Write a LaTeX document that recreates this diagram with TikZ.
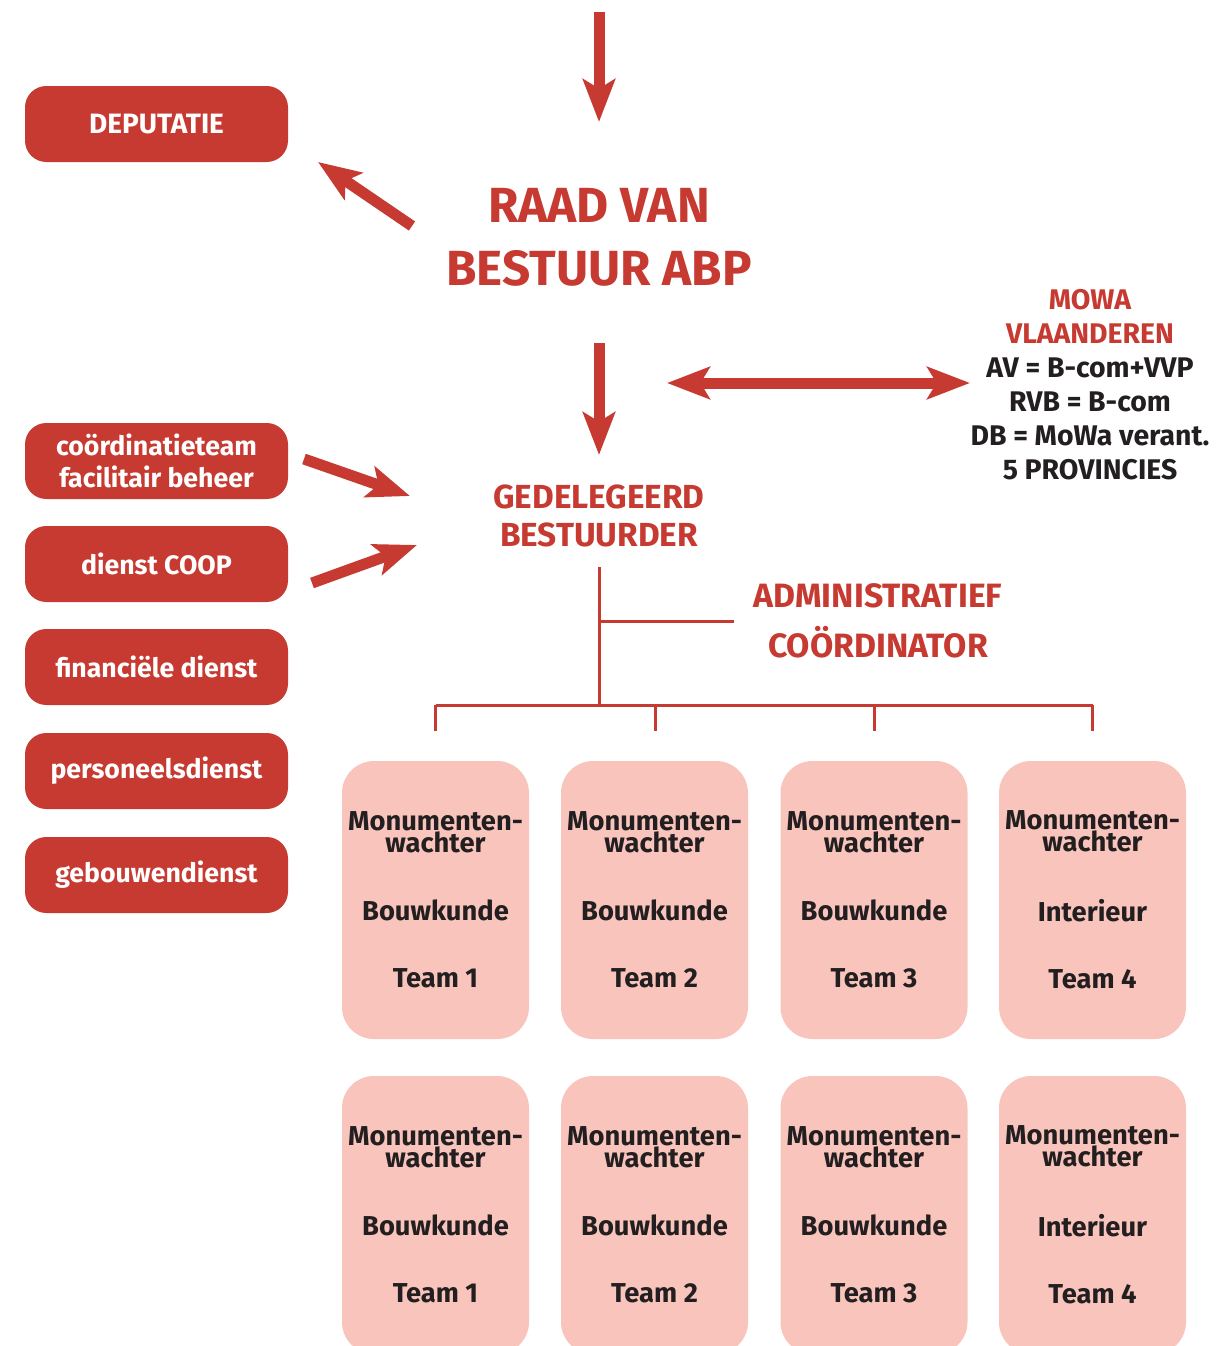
\documentclass[tikz,border=0pt]{standalone}
\usepackage{fontspec}
\setmainfont{Fira Sans}
\usetikzlibrary{arrows.meta}
\definecolor{ared}{HTML}{C73A31}
\definecolor{apink}{HTML}{F8C4BC}
\definecolor{adark}{HTML}{231F20}
\tikzset{
  redbox/.style={fill=ared, rounded corners=16pt, minimum width=197.25pt, minimum height=57pt, inner sep=0pt, text=white, align=center, font=\bfseries\fontsize{20pt}{24pt}\selectfont},
  teambox/.style={fill=apink, rounded corners=24pt, minimum width=140.25pt, minimum height=208.5pt, inner sep=0pt, text=adark, align=center, font=\bfseries\fontsize{20.5pt}{16.5pt}\selectfont},
  bigarrow/.style={draw=ared, line width=8.25pt, -{Stealth[length=32pt,width=24pt,inset=7pt]}},
  bigdouble/.style={draw=ared, line width=8.25pt, {Stealth[length=32pt,width=24pt,inset=7pt]}-{Stealth[length=32pt,width=24pt,inset=7pt]}},
  thinline/.style={draw=ared, line width=2.25pt},
  redtitle/.style={text=ared, align=center, inner sep=0pt},
}
\begin{document}
\begin{tikzpicture}[x=0.75pt,y=-0.75pt]
\useasboundingbox[fill=white] (0,0) rectangle (1228,1346);
% left boxes
\node[redbox, font=\bfseries\fontsize{21pt}{24pt}\selectfont] (dep) at (156.5,124) {DEPUTATIE};
\node[redbox] (coord) at (156.5,461) {coördinatieteam\\facilitair beheer};
\node[redbox] (coop) at (156.5,564) {dienst COOP};
\node[redbox] (fin) at (156.5,667) {financiële dienst};
\node[redbox] (pers) at (156.5,771) {personeelsdienst};
\node[redbox] (geb) at (156.5,875) {gebouwendienst};
% titles
\node[redtitle, font=\bfseries\fontsize{37pt}{47pt}\selectfont] (raad) at (599,237) {RAAD VAN\\BESTUUR ABP};
\node[redtitle, font=\bfseries\fontsize{25pt}{28.5pt}\selectfont] (ged) at (599,516) {GEDELEGEERD\\BESTUURDER};
\node[redtitle, font=\bfseries\fontsize{25.3pt}{37.5pt}\selectfont] (adm) at (878,621) {ADMINISTRATIEF\\COÖRDINATOR};
\node[align=center, inner sep=0pt, text=adark, font=\bfseries\fontsize{21.3pt}{25.5pt}\selectfont] (mowa) at (1090,385)
  {\textcolor{ared}{MOWA}\\\textcolor{ared}{VLAANDEREN}\\AV = B-com+VVP\\RVB = B-com\\DB = MoWa verant.\\5 PROVINCIES};
% arrow coordinates
\coordinate (topstart) at (599,12);
\coordinate (topend) at (599,122);
\coordinate (depstart) at (412,226);
\coordinate (depend) at (318,162);
\coordinate (rgstart) at (599,343);
\coordinate (rgend) at (599,455);
\coordinate (dbl1) at (667,383);
\coordinate (dbl2) at (970,383);
\coordinate (castart) at (304,459);
\coordinate (caend) at (410,496);
\coordinate (cpstart) at (312,583);
\coordinate (cpend) at (417,545);
\draw[bigarrow] (topstart) -- (topend);
\draw[bigarrow] (depstart) -- (depend);
\draw[bigarrow] (rgstart) -- (rgend);
\draw[bigdouble] (dbl1) -- (dbl2);
\draw[bigarrow] (castart) -- (caend);
\draw[bigarrow] (cpstart) -- (cpend);
% tree lines
\coordinate (gtop) at (599,567);
\coordinate (gmid) at (599,621);
\coordinate (gbus) at (599,705);
\coordinate (admline) at (734,621);
\coordinate (bus1) at (435.5,705);
\coordinate (bus2) at (655,705);
\coordinate (bus3) at (874,705);
\coordinate (bus4) at (1092.5,705);
\coordinate (d1) at (435.5,731);
\coordinate (d2) at (655,731);
\coordinate (d3) at (874,731);
\coordinate (d4) at (1092.5,731);
\draw[thinline] (gtop) -- (gbus);
\draw[thinline] (gmid) -- (admline);
\draw[thinline] (bus1) -- (bus4);
\draw[thinline] (bus1) -- (d1);
\draw[thinline] (bus2) -- (d2);
\draw[thinline] (bus3) -- (d3);
\draw[thinline] (bus4) -- (d4);
% team boxes
\foreach \x/\n/\k in {435.5/1/Bouwkunde, 654.5/2/Bouwkunde, 874/3/Bouwkunde, 1092.5/4/Interieur}{
  \node[teambox] (ta\n) at (\x,900) {Monumenten-\\wachter\\[34.5pt]\k\\[33.5pt]Team \n};
  \node[teambox] (tb\n) at (\x,1215) {Monumenten-\\wachter\\[34.5pt]\k\\[33.5pt]Team \n};
}
\end{tikzpicture}
\end{document}
